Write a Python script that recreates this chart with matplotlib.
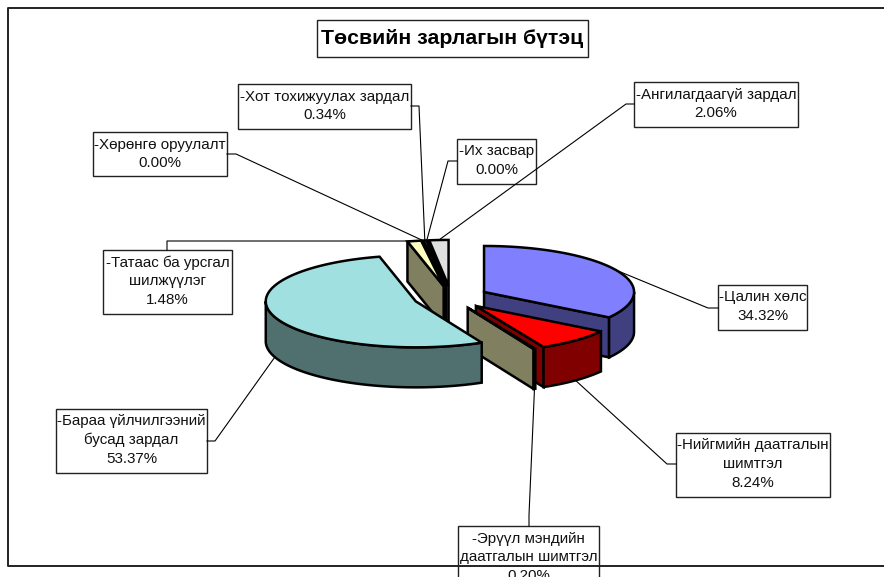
import matplotlib
matplotlib.use("Agg")
import matplotlib.pyplot as plt
import numpy as np

plt.rcParams['font.family'] = ['Liberation Sans', 'DejaVu Sans']

# Chart data, clockwise from 12 o'clock
names = [
    ["-Цалин хөлс"],
    ["-Нийгмийн даатгалын", "шимтгэл"],
    ["-Эрүүл мэндийн", "даатгалын шимтгэл"],
    ["-Бараа үйлчилгээний", "бусад зардал"],
    ["-Татаас ба урсгал", "шилжүүлэг"],
    ["-Хөрөнгө оруулалт"],
    ["-Хот тохижуулах зардал"],
    ["-Их засвар"],
    ["-Ангилагдаагүй зардал"],
]
values = [34.32, 8.24, 0.20, 53.37, 1.48, 0.00, 0.34, 0.00, 2.06]
top_colors = ['#8080FF', '#FF0000', '#FFFFC0', '#A0E0E0', '#FFFFC0',
              '#8080FF', '#8080FF', '#FFFFC0', '#E0E0E0']
wall_colors = ['#404080', '#800000', '#808060', '#507070', '#808060',
               '#404080', '#404080', '#808060', '#707070']

# Label boxes in pixels: left, top, right, bottom
boxes = [
    (718, 285, 807, 330), (676, 433, 830, 497), (458, 526, 599, 600),
    (56, 409, 207, 473), (103, 250, 232, 314), (93, 132, 227, 176),
    (238, 84, 411, 129), (457, 139, 536, 184), (634, 82, 798, 127),
]
# Leader start on the box and elbow
leader_start = [
    ((718, 308), (708, 308)), ((676, 464), (667, 464)), ((529, 526), (529, 515)),
    ((207, 441), (215, 441)), ((167, 250), (167, 241)), ((227, 154), (236, 154)),
    ((411, 106), (419, 106)), ((457, 161), (448, 161)), ((634, 104), (626, 104)),
]

CX, CY = 451, 297.4
RX, RY = 150, 46
DEPTH = 40
EXPLODE = 0.25
EDGE_LW = 1.8

fracs = np.array(values) / sum(values)
ends = np.cumsum(fracs) * 360
starts = ends - fracs * 360


def pt(c, ang, dy=0):
    a = np.radians(ang)
    return (c[0] + RX * np.sin(a), c[1] - RY * np.cos(a) + dy)


def arc(c, a0, a1, dy=0):
    n = max(int(abs(a1 - a0)) + 2, 2)
    return [pt(c, a, dy) for a in np.linspace(a0, a1, n)]


def center_of(i):
    mid = np.radians((starts[i] + ends[i]) / 2)
    return (CX + EXPLODE * RX * np.sin(mid), CY - EXPLODE * RY * np.cos(mid))


def draw_slice(ax, i):
    c = center_of(i)
    a0, a1 = starts[i], ends[i]
    kw = dict(facecolor=wall_colors[i], edgecolor='black', linewidth=EDGE_LW)
    # only the cut faces turned towards the viewer
    visible = []
    if a0 > 180:
        visible.append(a0)
    if a1 < 180:
        visible.append(a1)
    for a in visible:
        p = pt(c, a)
        ax.fill([c[0], p[0], p[0], c[0]], [c[1], p[1], p[1] + DEPTH, c[1] + DEPTH], **kw)
    lo, hi = max(a0, 90), min(a1, 270)
    if hi > lo:
        front = arc(c, lo, hi) + arc(c, hi, lo, DEPTH)
        ax.fill(*zip(*front), **kw)
    top = [c] + arc(c, a0, a1)
    ax.fill(*zip(*top), facecolor=top_colors[i], edgecolor='black', linewidth=EDGE_LW)


fig = plt.figure(figsize=(8.84, 5.77), dpi=100)
ax = fig.add_axes([0, 0, 1, 1])
ax.set_xlim(0, 884)
ax.set_ylim(577, 0)
ax.axis('off')

# Outer chart frame, right side runs off the picture
ax.plot([900, 8, 8, 900], [8, 8, 566, 566], color='#222222', lw=1.4, zorder=20)

# Back slices first, then around to the big one in front
for i in [8, 7, 6, 5, 4, 0, 1, 2, 3]:
    draw_slice(ax, i)

# Label boxes and texts
for i, (l, t, r, b) in enumerate(boxes):
    ax.fill([l, r, r, l], [t, t, b, b], facecolor='white', edgecolor='#222222',
            linewidth=1.0, zorder=5)
    lines = names[i] + [f"{values[i]:.2f}%"]
    for k, line in enumerate(lines):
        ax.text((l + r) / 2, t + 12.5 + k * 18.7, line, ha='center', va='center',
                fontsize=10.9, color='#111111', zorder=6)

# Leaders end on the rim of their slice, on the wall for the front half
for i, (start, elbow) in enumerate(leader_start):
    mid = (starts[i] + ends[i]) / 2
    dy = DEPTH if 90 < mid < 270 else 0
    end = pt(center_of(i), mid, dy)
    ax.plot([start[0], elbow[0], end[0]], [start[1], elbow[1], end[1]],
            color='black', lw=0.8, zorder=7)

# Title
ax.fill([317, 588, 588, 317], [20, 20, 57, 57], facecolor='white', edgecolor='#222222',
        linewidth=1.0, zorder=5)
ax.text(452.5, 38.5, "Төсвийн зарлагын бүтэц", ha='center', va='center',
        fontsize=15.3, fontweight='bold', color='black', zorder=6)

fig.savefig('out.png', dpi=100)
